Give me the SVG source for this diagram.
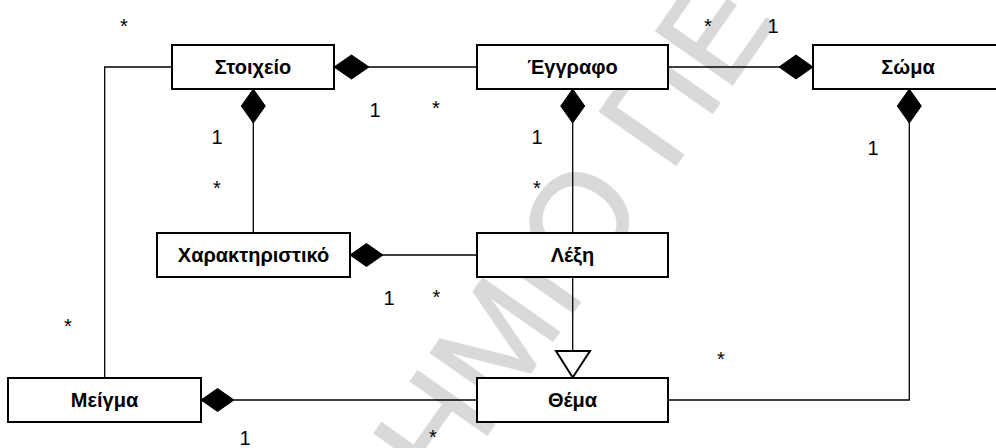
<svg xmlns="http://www.w3.org/2000/svg" width="996" height="448" viewBox="0 0 996 448">
<style>
.box{fill:#fff;stroke:#000;stroke-width:2}
.lbl{font-family:"Liberation Sans",Arial,sans-serif;font-weight:bold;font-size:20px;text-anchor:middle;fill:#000}
.m{font-family:"Liberation Sans",Arial,sans-serif;font-size:20px;text-anchor:middle;fill:#000}
.ln{fill:none;stroke:#000;stroke-width:1.3}
.dia{fill:#000;stroke:#000;stroke-width:1}
.tri{fill:#fff;stroke:#000;stroke-width:2}
.wm{font-family:"Liberation Sans",Arial,sans-serif;font-size:136px;fill:#d9d9d9;stroke:#d9d9d9;stroke-width:1.5}
</style>
<rect width="996" height="448" fill="#fff"/>
<text class="wm" transform="translate(444.5,496) rotate(-55)">ΗΜΙΟ ΠΕ</text>
<g id="connectors">
<path class="ln" d="M334,67 H477"/>
<path class="ln" d="M668,67 H813"/>
<path class="ln" d="M253.3,89 V233"/>
<path class="ln" d="M572.7,89 V233"/>
<path class="ln" d="M909.3,89 V400 H668"/>
<path class="ln" d="M172,67 H104.7 V378"/>
<path class="ln" d="M350,255 H477"/>
<path class="ln" d="M572.7,277 V351"/>
<path class="ln" d="M201,400 H477"/>
<path class="dia" d="M334,67 L351.5,55 L369,67 L351.5,79 Z"/>
<path class="dia" d="M813,67 L796,55 L779,67 L796,79 Z"/>
<path class="dia" d="M253.3,89 L265.3,106 L253.3,123 L241.3,106 Z"/>
<path class="dia" d="M572.7,89 L584.7,106 L572.7,123 L560.7,106 Z"/>
<path class="dia" d="M909.3,89 L921.3,106 L909.3,123 L897.3,106 Z"/>
<path class="dia" d="M350,255 L366.5,243.5 L383,255 L366.5,266.5 Z"/>
<path class="dia" d="M201,400 L217.5,388.5 L234,400 L217.5,411.5 Z"/>
<path class="tri" d="M556,351 L590,351 L572.7,377.5 Z"/>
</g>
<g id="stoixeio"><rect class="box" x="172" y="45" width="162" height="44"/><text class="lbl" x="253" y="74.2">Στοιχείο</text></g>
<g id="eggrafo"><rect class="box" x="477" y="45" width="191" height="44"/><text class="lbl" x="572.5" y="74.2">Έγγραφο</text></g>
<g id="soma"><rect class="box" x="813" y="45" width="190" height="44"/><text class="lbl" x="908" y="74.2">Σώμα</text></g>
<g id="charaktiristiko"><rect class="box" x="157" y="233" width="193" height="44"/><text class="lbl" x="253.5" y="262.2">Χαρακτηριστικό</text></g>
<g id="lexi"><rect class="box" x="477" y="233" width="191" height="44"/><text class="lbl" x="572.5" y="262.2">Λέξη</text></g>
<g id="meigma"><rect class="box" x="8" y="378" width="193" height="44"/><text class="lbl" x="104.5" y="407.2">Μείγμα</text></g>
<g id="thema"><rect class="box" x="477" y="378" width="191" height="44"/><text class="lbl" x="572.5" y="407.2">Θέμα</text></g>
<g id="labels">
<text class="m" x="124" y="33.4">*</text>
<text class="m" x="375" y="117">1</text>
<text class="m" x="436" y="115.4">*</text>
<text class="m" x="217" y="143.5">1</text>
<text class="m" x="217" y="195">*</text>
<text class="m" x="708" y="33">*</text>
<text class="m" x="773" y="33">1</text>
<text class="m" x="537" y="143.5">1</text>
<text class="m" x="537" y="195">*</text>
<text class="m" x="873" y="155">1</text>
<text class="m" x="389" y="305">1</text>
<text class="m" x="436.5" y="304">*</text>
<text class="m" x="68" y="333.4">*</text>
<text class="m" x="245" y="445">1</text>
<text class="m" x="433" y="444">*</text>
<text class="m" x="721" y="366.4">*</text>
</g>
</svg>
